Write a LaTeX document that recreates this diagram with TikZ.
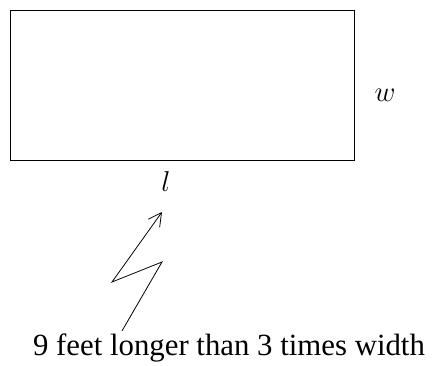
\documentclass[tikz,border=0pt]{standalone}
\usepackage{fontspec}
\setmainfont{Liberation Serif}
\usepackage{tikz}
\usetikzlibrary{calc, positioning, arrows.meta}

\begin{document}
\begin{tikzpicture}[x=0.5pt, y=-0.5pt, >={Straight Barb[length=6.5pt, width=7pt]},
    lbl/.style={font=\fontsize{15.4}{18}\selectfont, inner sep=0pt}]
  \useasboundingbox (0,0) rectangle (439,365);

  % field
  \draw[line width=0.5pt] (10,10) rectangle (354,160);

  \node[lbl] (w) at (385,95) {$w$};
  \node[lbl] (l) at (166,181) {$l$};

  \node[lbl, anchor=base] (note) at (229,355) {9 feet longer than 3 times width};

  % zigzag pointer from the note up to l
  \coordinate (zx) at (122,0);
  \coordinate (z1) at (162,262);
  \coordinate (z2) at (112,282);
  \coordinate (z3) at (162,212);
  \draw[->, line width=0.4pt] ($(note.north -| zx)+(0,-2)$) -- (z1) -- (z2) -- (z3);
\end{tikzpicture}
\end{document}
